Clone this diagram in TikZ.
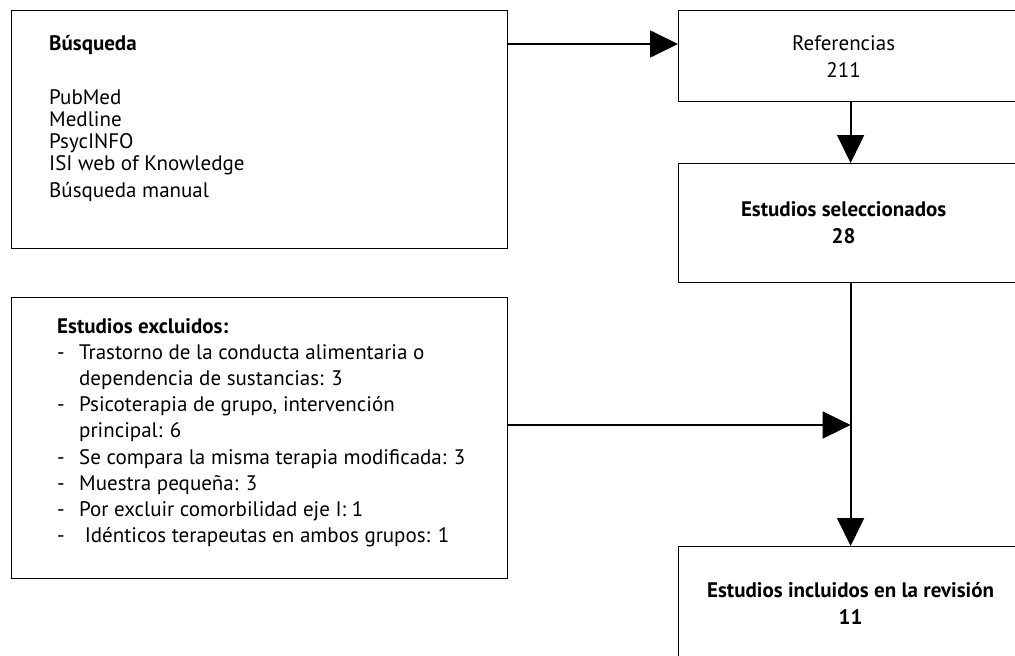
\documentclass[tikz,border=0pt]{standalone}
\usepackage{fontspec}
\setmainfont{PT Sans}
\usepackage{tikz}
\usetikzlibrary{arrows.meta,positioning}

\newcommand{\dashitem}{\makebox[22pt][l]{-}}
\newcommand{\contitem}{\hspace*{22pt}}

\tikzset{
    flowbox/.style={draw=black, line width=1.2pt, inner sep=0pt, anchor=north west},
    centerbox/.style={flowbox, align=center, font=\fontsize{21}{27}\selectfont},
    boxtext/.style={align=center, inner sep=0pt, xshift=-7pt, font=\fontsize{21}{27}\selectfont},
    leftlist/.style={inner sep=0pt, anchor=north west, align=left},
    flowarrow/.style={line width=1.8pt, -{Triangle[length=28pt, width=27pt]}}
}

\begin{document}
\begin{tikzpicture}[x=1pt, y=-1pt]
    \useasboundingbox (0,0) rectangle (1015,656);
    \clip (0,0) rectangle (1015,656);

    % left column
    \node[flowbox, minimum width=496pt, minimum height=238pt] (busq) at (11,10) {};
    \node[leftlist, font=\fontsize{21}{22}\selectfont] (busqtxt) at (49,35) {%
        \textbf{Búsqueda}\\[32pt]
        PubMed\\
        Medline\\
        PsycINFO\\
        ISI web of Knowledge\\[5pt]
        Búsqueda manual};

    \node[flowbox, minimum width=496pt, minimum height=281pt] (excl) at (11,297) {};
    \node[leftlist, font=\fontsize{21}{26.2}\selectfont] (excltxt) at (57,318) {%
        \textbf{Estudios excluidos:}\\
        \dashitem Trastorno de la conducta alimentaria o\\
        \contitem dependencia de sustancias: 3\\
        \dashitem Psicoterapia de grupo, intervención\\
        \contitem principal: 6\\
        \dashitem Se compara la misma terapia modificada: 3\\
        \dashitem Muestra pequeña: 3\\
        \dashitem Por excluir comorbilidad eje I: 1\\
        \dashitem\ Idénticos terapeutas en ambos grupos: 1};

    % right column
    \node[flowbox, minimum width=344pt, minimum height=91pt,
          label={[boxtext]center:{Referencias\\211}}] (refs) at (678,10) {};
    \node[flowbox, minimum width=344pt, minimum height=119pt,
          label={[boxtext, font=\bfseries\fontsize{21}{27}\selectfont]center:{Estudios seleccionados\\28}}] (sel) at (678,163) {};
    \node[centerbox, minimum width=344pt, minimum height=114pt, font=\bfseries\fontsize{21}{27}\selectfont] (incl) at (678,546) {Estudios incluidos en la revisión\\11};

    % connectors
    \coordinate (refin) at ([yshift=-34pt]refs.north west);
    \coordinate (merge) at (sel.south |- 0,425);
    \draw[flowarrow] (busq.east |- refin) -- (refin);
    \draw[flowarrow] (refs.south) -- (sel.north);
    \draw[line width=1.8pt] (sel.south) -- (merge);
    \draw[flowarrow] (merge) -- (incl.north);
    \draw[flowarrow] (excl.east |- merge) -- (merge);
\end{tikzpicture}
\end{document}
